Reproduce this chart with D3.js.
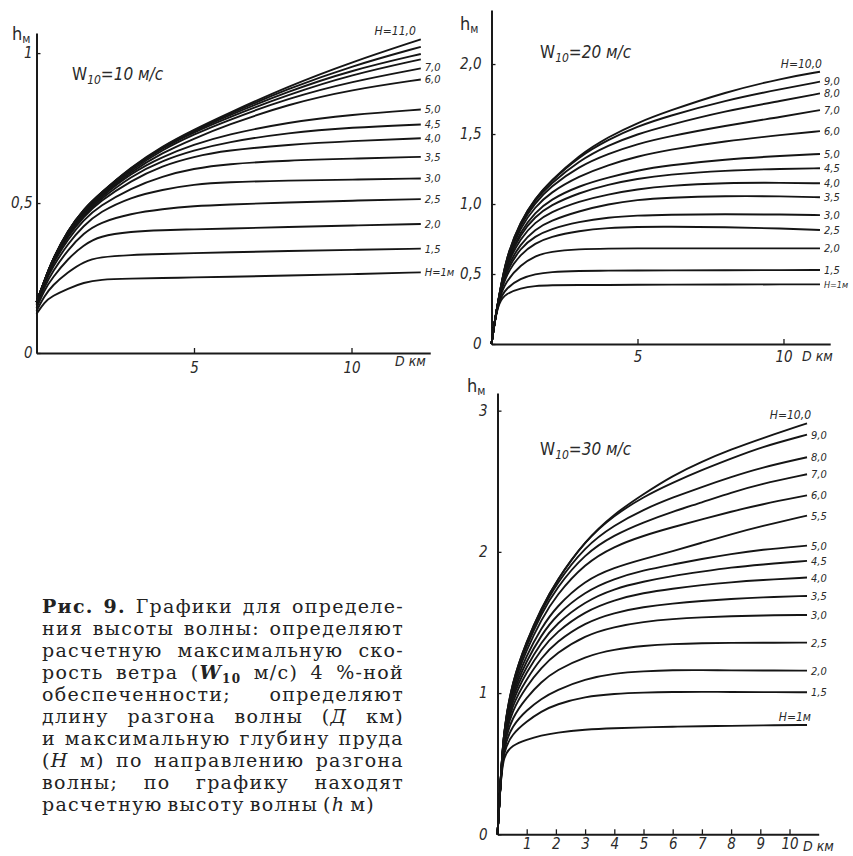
<!DOCTYPE html>
<html>
<head>
<meta charset="utf-8">
<script src="https://cdn.jsdelivr.net/npm/d3@7"></script>
<style>
  body { margin: 0; background: #fff; }
  svg { display: block; }
  .lbl { font-family: 'Liberation Sans Narrow', 'DejaVu Sans Condensed', 'Liberation Sans', sans-serif; font-style: italic; fill: #2a2a2a; }
  .cap { font-family: 'DejaVu Serif', 'Liberation Serif', serif; fill: #222; letter-spacing: 1.3px; }
</style>
</head>
<body>
<div id="vis"></div>
<script>
// ---- W10 = 10 m/s ----
let w10Dist = [0, 0.25, 0.5, 1, 1.5, 2, 3, 4, 5, 6, 8, 10, 12.2];
let w10Labels = ["H=1м", "1,5", "2,0", "2,5", "3,0", "3,5", "4,0", "4,5", "5,0", "6,0", "7,0", "", "", "", "H=11,0"];
let w10Curves = [
  [0.13, 0.17, 0.19, 0.215, 0.235, 0.245, 0.248, 0.25, 0.252, 0.254, 0.258, 0.263, 0.269],
  [0.14, 0.19, 0.225, 0.27, 0.305, 0.32, 0.327, 0.33, 0.333, 0.336, 0.34, 0.344, 0.348],
  [0.15, 0.21, 0.25, 0.315, 0.36, 0.39, 0.405, 0.41, 0.412, 0.415, 0.42, 0.425, 0.43],
  [0.16, 0.22, 0.27, 0.345, 0.40, 0.435, 0.465, 0.48, 0.49, 0.495, 0.502, 0.508, 0.513],
  [0.165, 0.23, 0.285, 0.365, 0.425, 0.47, 0.52, 0.545, 0.562, 0.57, 0.575, 0.578, 0.582],
  [0.17, 0.235, 0.295, 0.38, 0.445, 0.49, 0.55, 0.59, 0.615, 0.63, 0.642, 0.648, 0.654],
  [0.17, 0.24, 0.30, 0.39, 0.455, 0.505, 0.575, 0.625, 0.655, 0.675, 0.695, 0.707, 0.716],
  [0.17, 0.24, 0.305, 0.395, 0.46, 0.51, 0.59, 0.642, 0.676, 0.702, 0.735, 0.752, 0.762],
  [0.17, 0.24, 0.305, 0.40, 0.465, 0.515, 0.60, 0.655, 0.695, 0.727, 0.77, 0.795, 0.812],
  [0.17, 0.24, 0.31, 0.40, 0.47, 0.52, 0.605, 0.668, 0.715, 0.758, 0.83, 0.878, 0.912],
  [0.17, 0.24, 0.31, 0.405, 0.475, 0.525, 0.61, 0.678, 0.729, 0.773, 0.85, 0.905, 0.949],
  [0.17, 0.24, 0.31, 0.405, 0.475, 0.53, 0.615, 0.684, 0.736, 0.782, 0.862, 0.928, 0.979],
  [0.17, 0.24, 0.31, 0.41, 0.48, 0.53, 0.617, 0.686, 0.74, 0.788, 0.873, 0.943, 0.997],
  [0.17, 0.24, 0.31, 0.41, 0.48, 0.53, 0.618, 0.688, 0.742, 0.792, 0.882, 0.957, 1.021],
  [0.17, 0.24, 0.31, 0.41, 0.48, 0.53, 0.62, 0.69, 0.745, 0.795, 0.89, 0.97, 1.046]
];

// ---- W10 = 20 m/s ----
let w20Dist = [0, 0.1, 0.25, 0.5, 1, 1.5, 2, 3, 4, 5, 6, 8, 10, 11.25];
let w20Labels = ["H=1м", "1,5", "2,0", "2,5", "3,0", "3,5", "4,0", "4,5", "5,0", "6,0", "7,0", "8,0", "9,0", "H=10,0"];
let w20Curves = [
  [0, 0.15, 0.30, 0.36, 0.40, 0.415, 0.42, 0.421, 0.422, 0.423, 0.424, 0.425, 0.426, 0.426],
  [0, 0.15, 0.31, 0.40, 0.47, 0.50, 0.515, 0.522, 0.524, 0.525, 0.526, 0.527, 0.528, 0.529],
  [0, 0.15, 0.32, 0.45, 0.565, 0.63, 0.66, 0.678, 0.682, 0.683, 0.683, 0.683, 0.683, 0.683],
  [0, 0.15, 0.32, 0.50, 0.645, 0.72, 0.765, 0.81, 0.83, 0.837, 0.838, 0.835, 0.825, 0.814],
  [0, 0.15, 0.33, 0.52, 0.69, 0.77, 0.82, 0.875, 0.905, 0.918, 0.924, 0.928, 0.925, 0.921],
  [0, 0.15, 0.33, 0.54, 0.72, 0.82, 0.88, 0.95, 1.0, 1.03, 1.045, 1.058, 1.055, 1.048],
  [0, 0.15, 0.33, 0.56, 0.76, 0.87, 0.94, 1.02, 1.07, 1.105, 1.13, 1.152, 1.152, 1.148],
  [0, 0.15, 0.33, 0.57, 0.79, 0.91, 0.99, 1.08, 1.14, 1.18, 1.21, 1.24, 1.252, 1.255],
  [0, 0.15, 0.33, 0.58, 0.81, 0.94, 1.03, 1.13, 1.19, 1.24, 1.275, 1.32, 1.345, 1.357],
  [0, 0.15, 0.33, 0.59, 0.84, 0.98, 1.08, 1.20, 1.28, 1.34, 1.385, 1.45, 1.495, 1.521],
  [0, 0.15, 0.33, 0.60, 0.86, 1.01, 1.12, 1.27, 1.36, 1.43, 1.48, 1.56, 1.625, 1.671],
  [0, 0.15, 0.33, 0.61, 0.87, 1.03, 1.14, 1.31, 1.42, 1.50, 1.56, 1.665, 1.74, 1.79],
  [0, 0.15, 0.33, 0.62, 0.88, 1.04, 1.155, 1.34, 1.46, 1.555, 1.625, 1.74, 1.825, 1.874],
  [0, 0.15, 0.33, 0.62, 0.88, 1.04, 1.16, 1.35, 1.48, 1.58, 1.66, 1.80, 1.90, 1.945]
];

// ---- W10 = 30 m/s ----
let w30Dist = [0, 0.1, 0.2, 0.5, 1, 1.5, 2, 3, 4, 5, 6, 7, 8, 9, 10.6];
let w30Labels = ["H=1м", "1,5", "2,0", "2,5", "3,0", "3,5", "4,0", "4,5", "5,0", "5,5", "6,0", "7,0", "8,0", "9,0", "H=10,0"];
let w30Curves = [
  [0, 0.35, 0.56, 0.63, 0.67, 0.70, 0.72, 0.742, 0.752, 0.757, 0.762, 0.765, 0.768, 0.771, 0.774],
  [0, 0.35, 0.59, 0.71, 0.80, 0.87, 0.92, 0.975, 0.995, 1.004, 1.008, 1.009, 1.008, 1.007, 1.006],
  [0, 0.35, 0.61, 0.77, 0.88, 0.96, 1.02, 1.10, 1.14, 1.155, 1.163, 1.163, 1.161, 1.16, 1.159],
  [0, 0.35, 0.63, 0.83, 0.97, 1.08, 1.16, 1.26, 1.31, 1.335, 1.348, 1.354, 1.356, 1.357, 1.357],
  [0, 0.35, 0.65, 0.88, 1.05, 1.18, 1.28, 1.41, 1.47, 1.505, 1.525, 1.537, 1.545, 1.55, 1.553],
  [0, 0.35, 0.66, 0.92, 1.10, 1.25, 1.36, 1.50, 1.57, 1.61, 1.635, 1.653, 1.667, 1.678, 1.688],
  [0, 0.35, 0.67, 0.95, 1.15, 1.31, 1.43, 1.58, 1.66, 1.71, 1.74, 1.765, 1.785, 1.80, 1.818],
  [0, 0.35, 0.68, 0.98, 1.19, 1.36, 1.49, 1.65, 1.74, 1.79, 1.83, 1.86, 1.89, 1.91, 1.936],
  [0, 0.35, 0.69, 1.00, 1.23, 1.41, 1.55, 1.72, 1.81, 1.87, 1.91, 1.95, 1.985, 2.015, 2.044],
  [0, 0.35, 0.70, 1.02, 1.27, 1.46, 1.61, 1.80, 1.89, 1.95, 2.005, 2.065, 2.125, 2.18, 2.257],
  [0, 0.35, 0.71, 1.04, 1.31, 1.52, 1.69, 1.92, 2.04, 2.115, 2.175, 2.23, 2.285, 2.335, 2.40],
  [0, 0.35, 0.72, 1.06, 1.34, 1.56, 1.74, 1.99, 2.12, 2.21, 2.285, 2.35, 2.42, 2.48, 2.55],
  [0, 0.35, 0.72, 1.07, 1.36, 1.58, 1.77, 2.04, 2.19, 2.30, 2.385, 2.46, 2.53, 2.595, 2.67],
  [0, 0.35, 0.72, 1.08, 1.37, 1.60, 1.79, 2.08, 2.26, 2.39, 2.49, 2.58, 2.66, 2.74, 2.83],
  [0, 0.35, 0.72, 1.08, 1.37, 1.60, 1.79, 2.08, 2.27, 2.41, 2.54, 2.64, 2.725, 2.80, 2.91]
];

// caption (words; styled parts as [text, style])
let captionLines = [
  [[["Рис.", "b"]], [["9.", "b"]], "Графики", "для", "определе-"],
  ["ния", "высоты", "волны:", "определяют"],
  ["расчетную", "максимальную", "ско-"],
  ["рость", "ветра", [["(", ""], ["W", "bi"], ["10", "sub"]], "м/с)", "4", "%-ной"],
  ["обеспеченности;", "определяют"],
  ["длину", "разгона", "волны", [["(", ""], ["Д", "i"]], "км)"],
  ["и", "максимальную", "глубину", "пруда"],
  [[["(", ""], ["H", "i"]], "м)", "по", "направлению", "разгона"],
  ["волны;", "по", "графику", "находят"],
  ["расчетную", "высоту", "волны", [["(", ""], ["h", "i"]], "м)"]
];

let svg = d3.select('#vis')
  .append('svg')
  .attr('width', 853)
  .attr('height', 856)
  .style('background', '#fff');

function drawChart(c) {
  let g = svg.append('g');
  let line = d3.line()
    .x(d => c.x(d[0]))
    .y(d => c.y(d[1]))
    .curve(d3.curveBasis);

  // axes
  let xAxis = d3.axisBottom(c.x)
    .tickValues(c.xTicks)
    .tickSizeInner(-5)
    .tickSizeOuter(0)
    .tickPadding(c.xPad)
    .tickFormat(d3.format('d'));
  let gx = g.append('g')
    .attr('transform', `translate(0, ${c.y(0)})`)
    .call(xAxis);

  let yAxis = d3.axisLeft(c.y)
    .tickValues(c.yTicks)
    .tickSizeInner(-4)
    .tickSizeOuter(0)
    .tickPadding(c.yPad)
    .tickFormat(c.yFormat);
  let gy = g.append('g')
    .attr('transform', `translate(${c.x(0)}, 0)`)
    .call(yAxis);

  [gx, gy].forEach(a => {
    a.select('.domain').attr('stroke', '#1a1a1a').attr('stroke-width', 2);
    a.selectAll('line').attr('stroke', '#1a1a1a').attr('stroke-width', 1.3);
    a.selectAll('text')
      .attr('class', 'lbl')
      .style('font-size', '15px')
      .attr('fill', '#2a2a2a');
  });

  // curves
  let sideLabels = [];
  c.curves.forEach((vals, i) => {
    let pts = c.dist.map((d, j) => [d, vals[j]]);
    g.append('path')
      .attr('d', line(pts))
      .attr('fill', 'none')
      .attr('stroke', '#151515')
      .attr('stroke-width', 1.9);

    let lab = c.labels[i];
    if (!lab) return;
    let ex = c.x(c.dist[c.dist.length - 1]);
    let ey = c.y(vals[vals.length - 1]);
    let t = g.append('text').attr('class', 'lbl').text(lab);
    let top = i === c.curves.length - 1;
    if (top || (i === 0 && c.bottomAbove)) {
      t.attr('x', ex + c.topDx).attr('y', ey - 4)
        .attr('text-anchor', 'end')
        .style('font-size', '12px');
    } else {
      t.attr('x', ex + 4)
        .style('font-size', (i === 0 ? c.bottomSize : 11) + 'px');
      sideLabels.push({ t: t, y: ey + 4 });
    }
  });

  // keep right-hand labels from touching (bottom to top)
  for (let k = 1; k < sideLabels.length; k++) {
    let below = sideLabels[k - 1].y;
    if (sideLabels[k].y > below - 12) sideLabels[k].y = below - 12;
  }
  sideLabels.forEach(s => s.t.attr('y', s.y));

  // title
  let ti = g.append('text').attr('class', 'lbl')
    .attr('x', c.title[0]).attr('y', c.title[1])
    .style('font-size', '17px');
  ti.append('tspan').text('W').style('font-style', 'normal');
  ti.append('tspan').text('10').style('font-size', '12px').attr('dy', 4);
  ti.append('tspan').text('=' + c.wind + ' м/с').attr('dy', -4);

  // axis names
  let hy = g.append('text').attr('class', 'lbl')
    .attr('x', c.hPos[0]).attr('y', c.hPos[1])
    .style('font-size', '18px').style('font-style', 'normal');
  hy.append('tspan').text('h');
  hy.append('tspan').text('м').style('font-size', '12px').attr('dy', 3);

  g.append('text').attr('class', 'lbl')
    .attr('x', c.dPos[0]).attr('y', c.dPos[1])
    .style('font-size', '14px')
    .text('D км');
}

let comma = f => d => d === 0 ? '0' : d3.format(f)(d).replace('.', ',');

drawChart({
  dist: w10Dist, curves: w10Curves, labels: w10Labels,
  x: d3.scaleLinear().domain([0, 12.5]).range([36.5, 430.25]),
  y: d3.scaleLinear().domain([0, 1.067]).range([353, 33]),
  xTicks: [5, 10], yTicks: [0, 0.5, 1], yFormat: d => d === 1 ? '1' : comma('.1f')(d), yPad: 4, xPad: 9,
  topDx: -5, bottomSize: 11, bottomAbove: false,
  title: [72, 80], wind: 10, hPos: [12, 40], dPos: [395, 366]
});

drawChart({
  dist: w20Dist, curves: w20Curves, labels: w20Labels,
  x: d3.scaleLinear().domain([0, 11.6]).range([491.5, 830.2]),
  y: d3.scaleLinear().domain([0, 2.386]).range([344, 10]),
  xTicks: [5, 10], yTicks: [0, 0.5, 1, 1.5, 2], yFormat: comma('.1f'), yPad: 10, xPad: 7,
  topDx: 2, bottomSize: 9, bottomAbove: false,
  title: [540, 58], wind: 20, hPos: [460, 30], dPos: [802, 361]
});

drawChart({
  dist: w30Dist, curves: w30Curves, labels: w30Labels,
  x: d3.scaleLinear().domain([0, 11]).range([497.5, 818.7]),
  y: d3.scaleLinear().domain([0, 3.125]).range([834.3, 393]),
  xTicks: [1, 2, 3, 4, 5, 6, 7, 8, 9, 10], yTicks: [0, 1, 2, 3], yFormat: d3.format('d'), yPad: 10, xPad: 4,
  topDx: 4, bottomSize: 12, bottomAbove: true,
  title: [540, 455], wind: 30, hPos: [467, 392], dPos: [803, 851]
});

// caption, justified word by word
let capLeft = 42, capTop = 613, capStep = 22;
let capWidths = [362, 362, 362, 362, 362, 362, 362, 362, 362, 333];

captionLines.forEach((words, i) => {
  let y = capTop + i * capStep;
  let nodes = words.map(w => {
    let t = svg.append('text').attr('class', 'cap').attr('y', y).style('font-size', '19px');
    let parts = typeof w === 'string' ? [[w, '']] : w;
    parts.forEach(([s, st]) => {
      let ts = t.append('tspan').text(s);
      if (st.includes('b')) ts.attr('font-weight', 'bold');
      if (st.includes('i')) ts.attr('font-style', 'italic');
      if (st === 'sub') ts.style('font-size', '12px').attr('dy', 4);
    });
    return t;
  });
  let widths = nodes.map(n => n.node().getComputedTextLength());
  let total = d3.sum(widths);
  let gap = nodes.length > 1 ? (capWidths[i] - total) / (nodes.length - 1) : 0;
  let x = capLeft;
  nodes.forEach((n, k) => {
    n.attr('x', x);
    x += widths[k] + gap;
  });
});
</script>
</body>
</html>
